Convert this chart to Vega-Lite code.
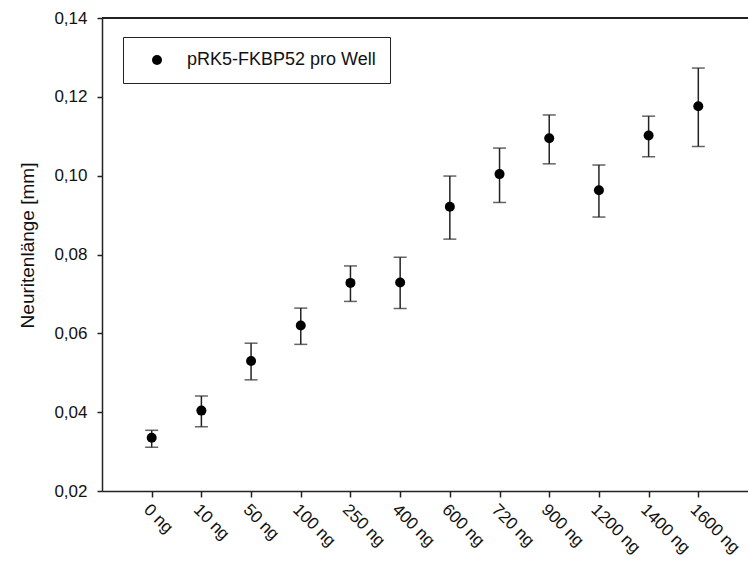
{
  "$schema": "https://vega.github.io/schema/vega-lite/v6.json",
  "width": 646,
  "height": 473,
  "autosize": {"type": "none"},
  "padding": {"left": 102, "top": 18, "right": 0, "bottom": 72},
  "config": {
    "view": {"stroke": null},
    "font": "Liberation Sans, Arial",
    "axis": {"domainColor": "#222", "tickColor": "#222", "labelColor": "#111", "titleColor": "#111", "grid": false, "domainWidth": 1.5, "tickWidth": 1.5, "titleFontWeight": "normal"},
    "axisY": {"labelFontSize": 17, "titleFontSize": 19, "titleFontWeight": "normal", "titleY": 227},
    "axisX": {"labelFontSize": 17}
  },
  "data": {
    "values": [
      {"dose": "0 ng", "mean": 0.0335, "lo": 0.0311, "hi": 0.0354},
      {"dose": "10 ng", "mean": 0.0404, "lo": 0.0363, "hi": 0.0441},
      {"dose": "50 ng", "mean": 0.0530, "lo": 0.0482, "hi": 0.0575},
      {"dose": "100 ng", "mean": 0.0620, "lo": 0.0572, "hi": 0.0664},
      {"dose": "250 ng", "mean": 0.0728, "lo": 0.0681, "hi": 0.0771},
      {"dose": "400 ng", "mean": 0.0729, "lo": 0.0663, "hi": 0.0793},
      {"dose": "600 ng", "mean": 0.0921, "lo": 0.0839, "hi": 0.0999},
      {"dose": "720 ng", "mean": 0.1004, "lo": 0.0932, "hi": 0.1070},
      {"dose": "900 ng", "mean": 0.1095, "lo": 0.1030, "hi": 0.1154},
      {"dose": "1200 ng", "mean": 0.0963, "lo": 0.0895, "hi": 0.1027},
      {"dose": "1400 ng", "mean": 0.1102, "lo": 0.1048, "hi": 0.1151},
      {"dose": "1600 ng", "mean": 0.1176, "lo": 0.1074, "hi": 0.1273}
    ]
  },
  "layer": [
    {
      "mark": {"type": "rule", "color": "#222", "strokeWidth": 1.5},
      "encoding": {
        "x": {
          "field": "dose",
          "type": "ordinal",
          "sort": null,
          "scale": {"type": "point", "padding": 1},
          "axis": {"title": null, "labelAngle": 45, "labelFontSize": 17, "tickSize": 6, "labelPadding": 4, "labelAlign": "left", "labelBaseline": "top"}
        },
        "y": {
          "field": "lo",
          "type": "quantitative",
          "scale": {"domain": [0.02, 0.14], "nice": false, "zero": false},
          "axis": {
            "title": "Neuritenlänge [mm]",
            "titleFontSize": 19,
            "titleY": 227,
            "titlePadding": 16,
            "labelFontSize": 17,
            "tickSize": 5,
            "labelPadding": 10,
            "values": [0.02, 0.04, 0.06, 0.08, 0.1, 0.12, 0.14],
            "labelExpr": "replace(format(datum.value, '.2f'), '.', ',')"
          }
        },
        "y2": {"field": "hi"}
      }
    },
    {
      "mark": {"type": "tick", "color": "#222", "thickness": 1.5, "size": 13, "orient": "horizontal"},
      "encoding": {
        "x": {"field": "dose", "type": "ordinal", "sort": null},
        "y": {"field": "lo", "type": "quantitative"}
      }
    },
    {
      "mark": {"type": "tick", "color": "#222", "thickness": 1.5, "size": 13, "orient": "horizontal"},
      "encoding": {
        "x": {"field": "dose", "type": "ordinal", "sort": null},
        "y": {"field": "hi", "type": "quantitative"}
      }
    },
    {
      "mark": {"type": "circle", "size": 100, "opacity": 1},
      "encoding": {
        "x": {"field": "dose", "type": "ordinal", "sort": null},
        "y": {"field": "mean", "type": "quantitative"},
        "color": {
          "datum": "pRK5-FKBP52 pro Well",
          "type": "nominal",
          "scale": {"range": ["black"]},
          "legend": {
            "title": null,
            "orient": "none",
            "legendX": 21,
            "legendY": 19,
            "strokeColor": "#222",
            "padding": 14,
            "symbolOffset": 11,
            "symbolSize": 100,
            "symbolType": "circle",
            "labelFontSize": 18,
            "labelLimit": 400,
            "labelOffset": 21,
            "labelColor": "#111"
          }
        }
      }
    },
    {
      "mark": {"type": "rule", "color": "#222", "strokeWidth": 1.5},
      "encoding": {
        "y": {"datum": 0.14, "type": "quantitative"}
      }
    }
  ]
}
